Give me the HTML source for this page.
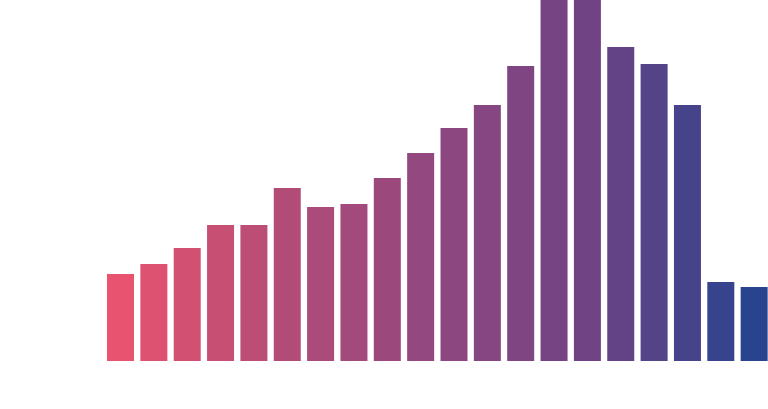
<!DOCTYPE html>
<html><head><meta charset="utf-8"><style>
html,body{margin:0;padding:0;background:#fff;width:768px;height:409px;overflow:hidden}
svg{display:block}
</style></head><body>
<svg id="chart" width="768" height="409" viewBox="0 0 768 409"></svg>
<script>
const categories = ["1","2","3","4","5","6","7","8","9","10","11","12","13","14","15","16","17","18","19","20"];
const values = [87,97,113,136,136,173,154,157,183,208,233,256,295,365,365,314,297,256,79,74];
const colorStops = ["#e8536f","#b44c76","#8f4880","#6e4384","#2a438f"];

const svg = document.getElementById('chart');
const baseY = 361, x0 = 107, step = 33.35, barW = 27, yMaxPx = 361, yMaxVal = 361;
function xScale(i){ return x0 + i*step; }
function yScale(v){ return baseY - (v/yMaxVal)*yMaxPx; }
function hex(c){ return [1,3,5].map(k=>parseInt(c.substr(k,2),16)); }
function colorAt(t){
  const n = colorStops.length-1, p = t*n, i = Math.min(Math.floor(p), n-1), f = p-i;
  const a = hex(colorStops[i]), b = hex(colorStops[i+1]);
  return 'rgb(' + a.map((v,k)=>Math.round(v+(b[k]-v)*f)).join(',') + ')';
}
values.forEach((v,i)=>{
  const r = document.createElementNS('http://www.w3.org/2000/svg','rect');
  const y = Math.max(0, yScale(v));
  r.setAttribute('x', xScale(i));
  r.setAttribute('y', y);
  r.setAttribute('width', barW);
  r.setAttribute('height', baseY - y);
  r.setAttribute('fill', colorAt(i/(values.length-1)));
  
  
  svg.appendChild(r);
});
</script>
</body></html>
